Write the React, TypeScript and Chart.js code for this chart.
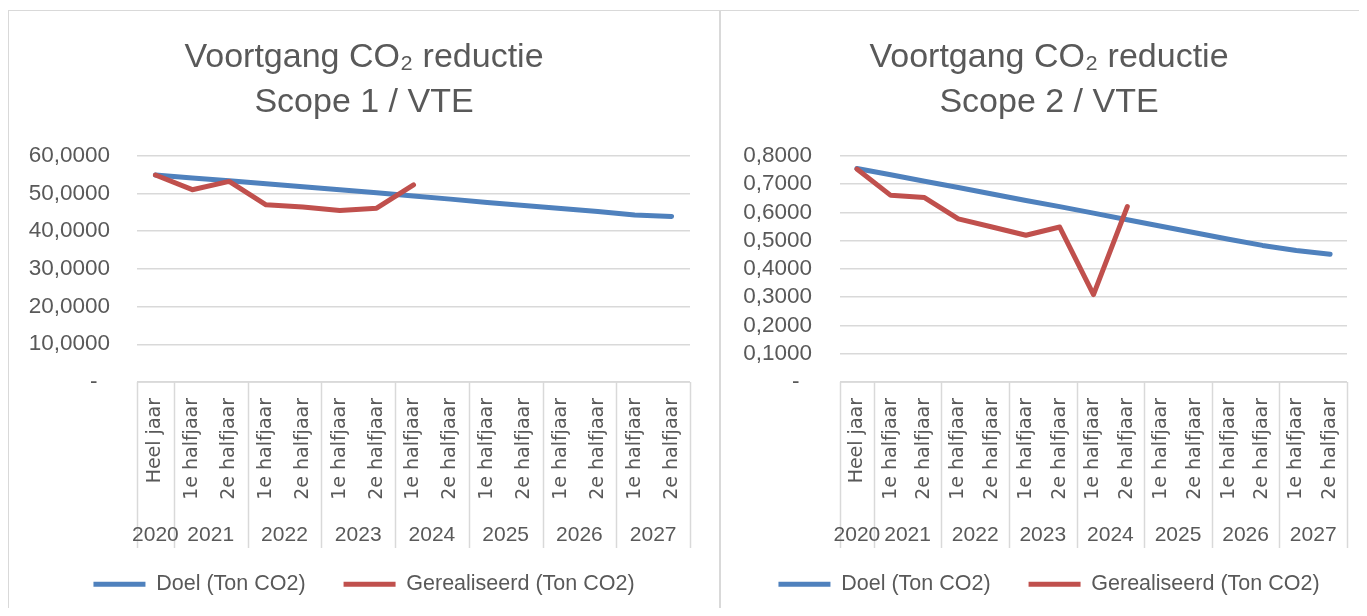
import React, { useEffect, useRef } from 'react';
import { Chart, registerables } from 'chart.js';

Chart.register(...registerables);

const subLabels = [
  'Heel jaar',
  '1e halfjaar', '2e halfjaar',
  '1e halfjaar', '2e halfjaar',
  '1e halfjaar', '2e halfjaar',
  '1e halfjaar', '2e halfjaar',
  '1e halfjaar', '2e halfjaar',
  '1e halfjaar', '2e halfjaar',
  '1e halfjaar', '2e halfjaar',
];
const yearLabels = ['2020', '2021', '2022', '2023', '2024', '2025', '2026', '2027'];
const yearSpans = [1, 2, 2, 2, 2, 2, 2, 2];

const scope1Doel = [54.9, 54.1, 53.4, 52.6, 51.8, 51.0, 50.2, 49.3, 48.5, 47.6, 46.8, 46.0, 45.2, 44.3, 43.9];
const scope1Gerealiseerd = [54.9, 51.0, 53.2, 47.0, 46.4, 45.5, 46.1, 52.3];
const scope2Doel = [0.755, 0.733, 0.71, 0.688, 0.665, 0.642, 0.62, 0.597, 0.574, 0.551, 0.528, 0.505, 0.483, 0.465, 0.452];
const scope2Gerealiseerd = [0.753, 0.66, 0.652, 0.577, 0.548, 0.519, 0.548, 0.309, 0.62];

const scope1Title = ['Voortgang CO₂ reductie', 'Scope 1 / VTE'];
const scope2Title = ['Voortgang CO₂ reductie', 'Scope 2 / VTE'];
const seriesNames = ['Doel (Ton CO2)', 'Gerealiseerd (Ton CO2)'];

const BLUE = '#4f81bd';
const RED = '#c0504d';
const TEXT = '#595959';
const GRID = '#d9d9d9';
const FONT = '"Liberation Sans", Arial, sans-serif';

const axisPlugin = {
  id: 'multiAxis',
  afterDraw(chart: any) {
    const ctx = chart.ctx;
    const x = chart.scales.x;
    const area = chart.chartArea;
    const half = (x.getPixelForValue(1) - x.getPixelForValue(0)) / 2;
    ctx.save();
    ctx.strokeStyle = GRID;
    ctx.lineWidth = 1.5;
    ctx.beginPath();
    ctx.moveTo(area.left, area.bottom);
    ctx.lineTo(area.right, area.bottom);
    ctx.stroke();
    const bounds = [0];
    let acc = 0;
    yearSpans.forEach((s) => {
      acc += s;
      bounds.push(acc);
    });
    bounds.forEach((b) => {
      const px = Math.round(x.getPixelForValue(b) - half) + 0.5;
      ctx.beginPath();
      ctx.moveTo(px, area.bottom);
      ctx.lineTo(px, area.bottom + 166);
      ctx.stroke();
    });
    ctx.fillStyle = TEXT;
    ctx.font = '19px "DejaVu Sans", sans-serif';
    subLabels.forEach((l, i) => {
      ctx.save();
      ctx.translate(x.getPixelForValue(i), area.bottom + 16);
      ctx.rotate(-Math.PI / 2);
      ctx.textAlign = 'right';
      ctx.textBaseline = 'middle';
      ctx.fillText(l, 0, 0);
      ctx.restore();
    });
    ctx.font = '21px ' + FONT;
    ctx.textAlign = 'center';
    ctx.textBaseline = 'middle';
    let start = 0;
    yearLabels.forEach((y, k) => {
      const end = start + yearSpans[k] - 1;
      const cx = (x.getPixelForValue(start) + x.getPixelForValue(end)) / 2;
      ctx.fillText(y, cx, area.bottom + 153);
      start += yearSpans[k];
    });
    ctx.restore();
  },
};

function fmt(v: number) {
  if (Math.abs(v) < 1e-9) return '-  ';
  return v.toFixed(4).replace('.', ',');
}

type Props = {
  title: string[];
  doel: number[];
  real: number[];
  max: number;
  step: number;
  yWidth: number;
  rightGap: number;
  tickPad: number;
  width: number;
  height: number;
};

function CO2Chart(p: Props) {
  const ref = useRef<HTMLCanvasElement | null>(null);
  useEffect(() => {
    if (!ref.current) return;
    const chart = new Chart(ref.current, {
      type: 'line',
      data: {
        labels: subLabels,
        datasets: [
          {
            label: seriesNames[0],
            data: p.doel,
            borderColor: BLUE,
            backgroundColor: BLUE,
            borderWidth: 5,
            pointRadius: 0,
            tension: 0,
            borderCapStyle: 'round',
            borderJoinStyle: 'round',
            order: 1,
          },
          {
            label: seriesNames[1],
            data: p.real,
            borderColor: RED,
            backgroundColor: RED,
            borderWidth: 5,
            pointRadius: 0,
            tension: 0,
            borderCapStyle: 'round',
            borderJoinStyle: 'round',
            order: 0,
          },
        ],
      },
      options: {
        animation: false,
        responsive: false,
        maintainAspectRatio: false,
        layout: { padding: { top: 0, left: 0, right: 0, bottom: 11 } },
        plugins: {
          title: {
            display: true,
            text: p.title,
            color: TEXT,
            font: { family: FONT, size: 34, weight: 'normal', lineHeight: 1.32 },
            padding: { top: 24, bottom: 31 },
          },
          legend: {
            position: 'bottom',
            labels: {
              usePointStyle: true,
              pointStyle: 'line',
              pointStyleWidth: 52,
              color: TEXT,
              font: { family: FONT, size: 21.5 },
              padding: 38,
              sort: (a: any, b: any) => a.datasetIndex - b.datasetIndex,
            },
          },
          tooltip: { enabled: false },
        },
        scales: {
          x: {
            type: 'category',
            offset: true,
            grid: { display: false },
            border: { display: false },
            ticks: { display: false },
            afterFit: (s: any) => {
              s.height = 153.5;
            },
          },
          y: {
            min: 0,
            max: p.max,
            ticks: {
              stepSize: p.step,
              autoSkip: false,
              color: TEXT,
              font: { family: FONT, size: 22.5 },
              padding: p.tickPad,
              callback: (v: any) => fmt(Number(v)),
            },
            grid: { color: GRID, lineWidth: 1.5, drawTicks: false },
            border: { display: false },
            afterFit: (s: any) => {
              s.width = p.yWidth;
            },
          },
          yGap: {
            type: 'linear',
            position: 'right',
            display: true,
            grid: { display: false },
            border: { display: false },
            ticks: { display: false },
            afterFit: (s: any) => {
              s.width = p.rightGap;
            },
          },
        },
      },
      plugins: [axisPlugin],
    });
    return () => chart.destroy();
  }, []);
  return <canvas ref={ref} width={p.width} height={p.height} style={{ display: 'block', width: p.width + 'px', height: p.height + 'px' }} />;
}

export default function App() {
  return (
    <div
      style={{
        display: 'flex',
        marginTop: 2,
        marginBottom: -8,
        marginRight: -8,
        width: 1359,
        height: 606,
        overflow: 'hidden',
      }}
    >
      <div
        style={{
          flex: '0 0 712px',
          height: 606,
          boxSizing: 'border-box',
          borderLeft: '1px solid ' + GRID,
          borderTop: '1px solid ' + GRID,
          borderRight: '1px solid ' + GRID,
          overflow: 'hidden',
          background: '#fff',
        }}
      >
        <CO2Chart
          title={scope1Title}
          doel={scope1Doel}
          real={scope1Gerealiseerd}
          max={60}
          step={10}
          yWidth={128}
          rightGap={29}
          tickPad={27}
          width={710}
          height={605}
        />
      </div>
      <div
        style={{
          flex: '0 0 657px',
          height: 606,
          boxSizing: 'border-box',
          borderLeft: '1px solid ' + GRID,
          borderTop: '1px solid ' + GRID,
          overflow: 'hidden',
          background: '#fff',
        }}
      >
        <CO2Chart
          title={scope2Title}
          doel={scope2Doel}
          real={scope2Gerealiseerd}
          max={0.8}
          step={0.1}
          yWidth={119}
          rightGap={30}
          tickPad={28}
          width={656}
          height={605}
        />
      </div>
    </div>
  );
}
